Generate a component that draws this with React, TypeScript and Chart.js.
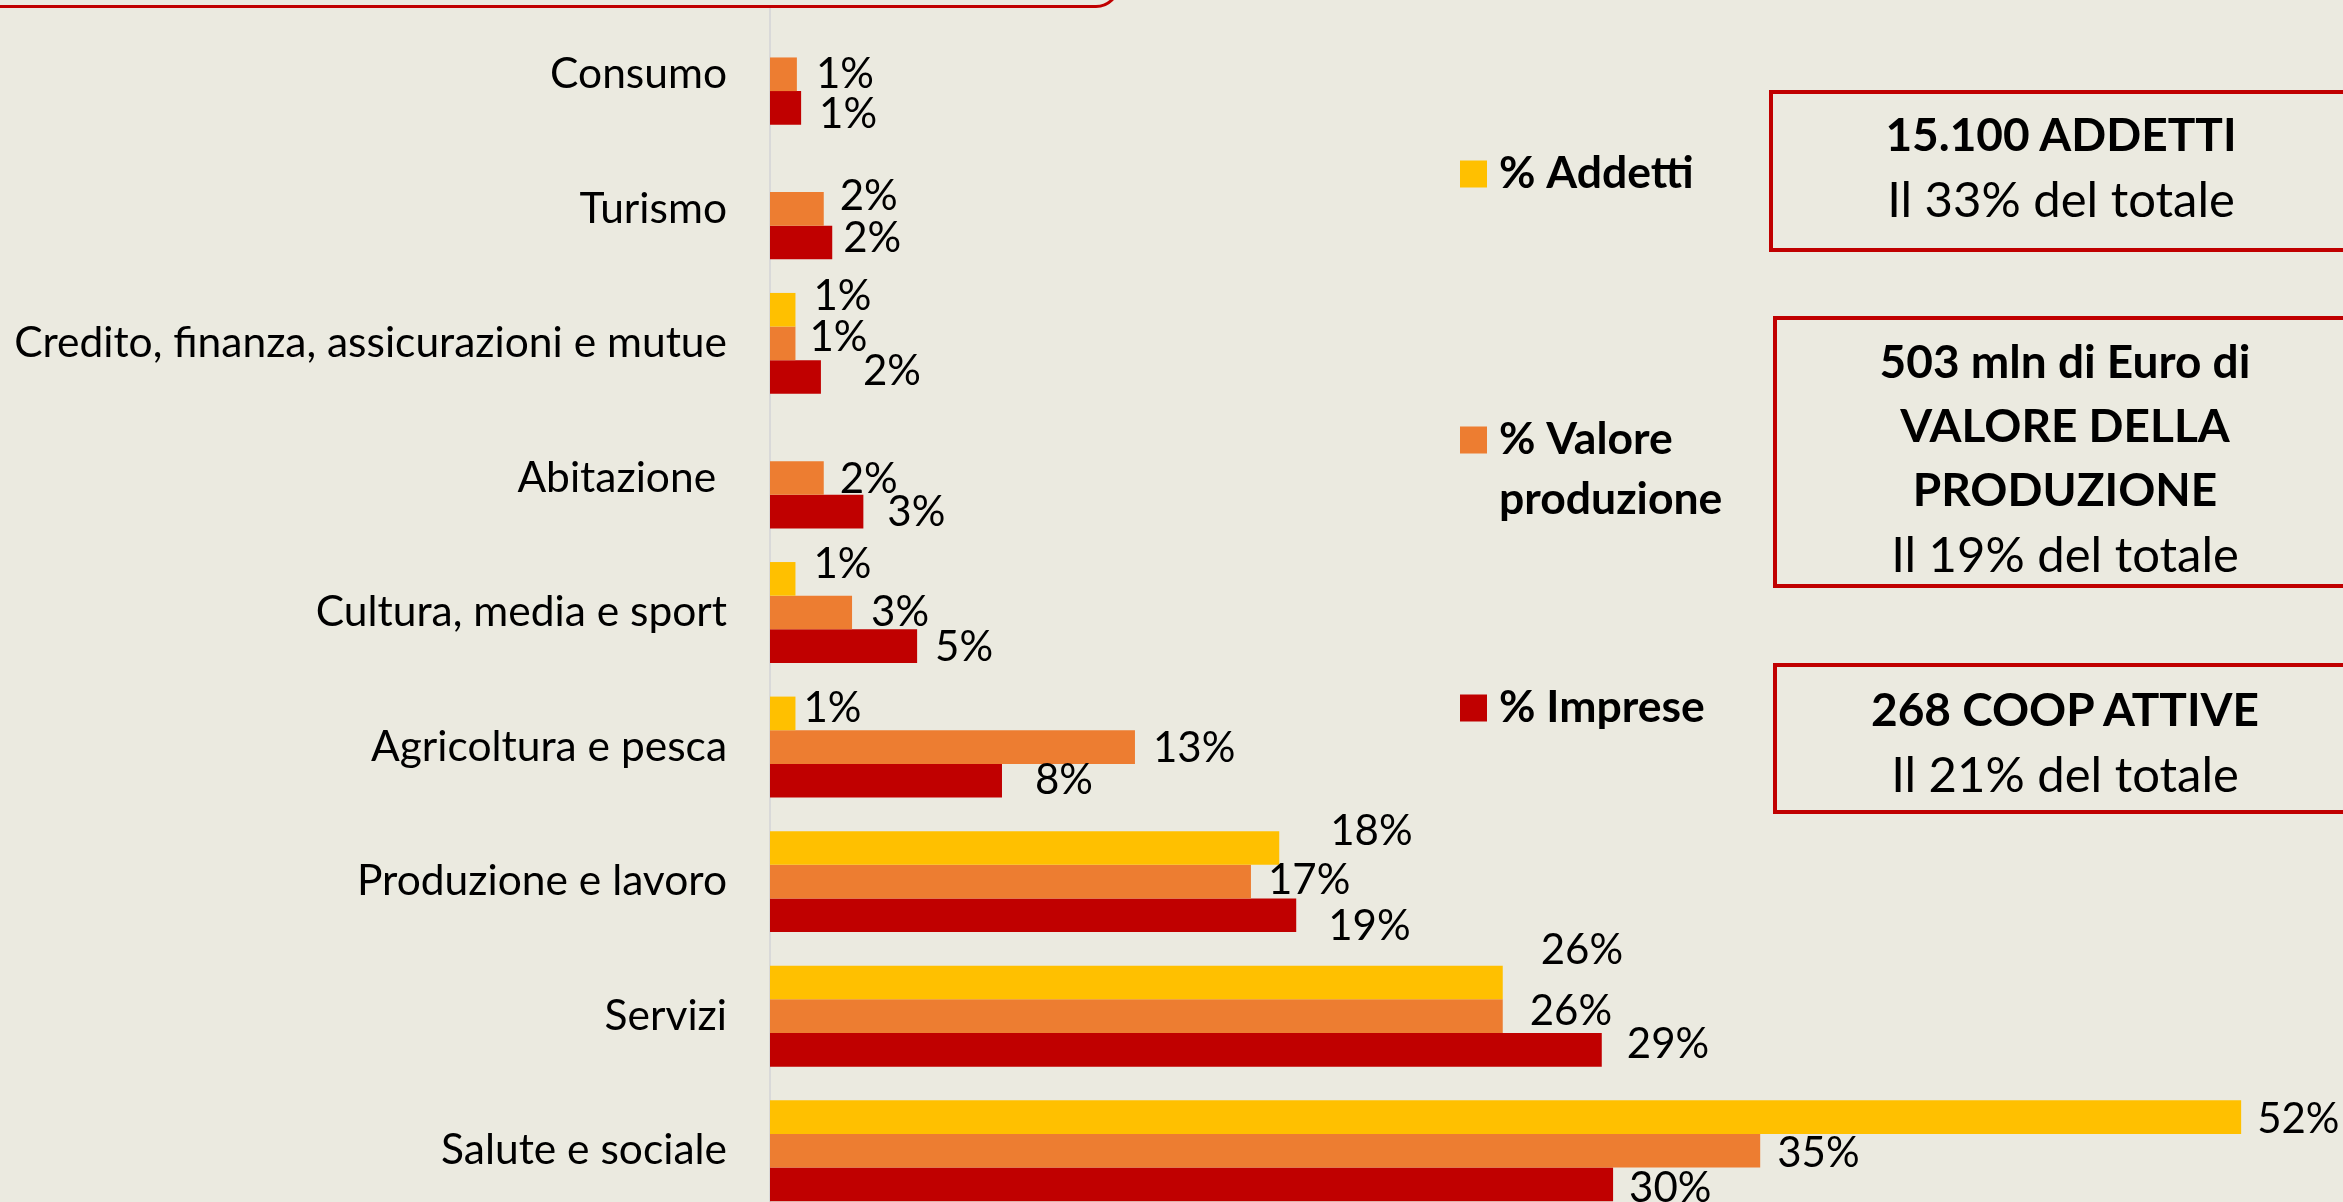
import React, { useEffect, useRef } from "react";
import { Chart, registerables } from "chart.js";

Chart.register(...registerables);

// ---------- DATA ----------
const categories = [
  "Consumo",
  "Turismo",
  "Credito, finanza, assicurazioni e mutue",
  "Abitazione ",
  "Cultura, media e sport",
  "Agricoltura e pesca",
  "Produzione e lavoro",
  "Servizi",
  "Salute e sociale",
];
const seriesNames = ["% Addetti", "% Valore produzione", "% Imprese"];
const addetti = [null, null, 0.9, null, 0.9, 0.9, 18.0, 25.9, 52.0];
const valoreProduzione = [0.95, 1.9, 0.9, 1.9, 2.9, 12.9, 17.0, 25.9, 35.0];
const imprese = [1.1, 2.2, 1.8, 3.3, 5.2, 8.2, 18.6, 29.4, 29.8];
const legendLines = [["% Addetti"], ["% Valore", "produzione"], ["% Imprese"]];
const boxBold = [["15.100 ADDETTI"], ["503 mln di Euro di", "VALORE DELLA", "PRODUZIONE"], ["268 COOP ATTIVE"]];
const boxNormal = ["Il 33% del totale", "Il 19% del totale", "Il 21% del totale"];

// ---------- STYLE / LAYOUT ----------
const COLORS = ["#FFC000", "#ED7D31", "#C00000"];
const BG = "#EBEAE0";
const RED = "#C00000";
const FONT = "Lato";
// label nudges (dx, dy) relative to the default outside-end position
const LABEL_NUDGE = [
  [[0, 0], [0, 0], [1, -13], [0, 0], [1, -14], [-9, -5], [34, -17], [21, -32], [-1, 2]],
  [[2, 0], [-1, -12], [-3, -6], [-1, 2], [2, 0], [1, 1], [0, -1], [10, -5], [0, 3]],
  [[1, 7], [-6, -4], [25, -6], [7, 1], [1, 1], [16, 0], [15, 11], [8, -5], [-1, 4]],
];
const LEGEND_Y = [174, 440, 708];
const BOX_LAYOUT = [
  { left: 1769, top: 90, height: 162, pad: 8 },
  { left: 1773, top: 316, height: 272, pad: 9 },
  { left: 1773, top: 663, height: 151, pad: 10 },
];

const labelPlugin = {
  id: "barLabels",
  afterDatasetsDraw(chart: any) {
    const ctx = chart.ctx;
    ctx.save();
    ctx.font = `42px ${FONT}`;
    ctx.fillStyle = "#000";
    ctx.textAlign = "left";
    ctx.textBaseline = "middle";
    chart.data.datasets.forEach((ds: any, di: number) => {
      const meta = chart.getDatasetMeta(di);
      meta.data.forEach((el: any, i: number) => {
        const v = ds.data[i];
        if (v == null) return;
        const [dx, dy] = LABEL_NUDGE[di][i];
        ctx.fillText(Math.round(v) + "%", el.x + 17 + dx, el.y + dy);
      });
    });
    ctx.restore();
  },
};

const legendPlugin = {
  id: "sideLegend",
  afterDraw(chart: any) {
    const ctx = chart.ctx;
    ctx.save();
    ctx.font = `bold 44.5px ${FONT}`;
    ctx.textAlign = "left";
    ctx.textBaseline = "middle";
    chart.data.datasets.forEach((ds: any, di: number) => {
      const y = LEGEND_Y[di];
      ctx.fillStyle = ds.backgroundColor;
      ctx.fillRect(1460, y - 13.5, 27, 27);
      ctx.fillStyle = "#000";
      legendLines[di].forEach((line, li) => {
        ctx.fillText(line, 1499, y + li * 60);
      });
    });
    ctx.restore();
  },
};

export default function App() {
  const ref = useRef<HTMLCanvasElement | null>(null);

  useEffect(() => {
    document.body.style.margin = "0";
    document.body.style.background = BG;
    const chart = new Chart(ref.current as HTMLCanvasElement, {
      type: "bar",
      data: {
        labels: categories,
        datasets: [addetti, valoreProduzione, imprese].map((d, i) => ({
          label: seriesNames[i],
          data: d,
          backgroundColor: COLORS[i],
          borderWidth: 0,
          barPercentage: 1,
          categoryPercentage: 0.75,
        })),
      },
      options: {
        responsive: false,
        animation: false,
        indexAxis: "y",
        layout: { padding: { top: 7, left: 0, right: 0, bottom: 0 } },
        plugins: { legend: { display: false }, tooltip: { enabled: false } },
        scales: {
          x: { display: false, min: 0, max: 55.6 },
          y: {
            afterFit: (s: any) => {
              s.width = 770;
              s.paddingTop = 0;
              s.paddingBottom = 0;
            },
            grid: { display: true, color: "rgba(0,0,0,0)", drawTicks: false },
            border: { display: true, color: "#D9D9D9", width: 2 },
            ticks: { font: { family: FONT, size: 42.5 }, color: "#000", padding: 43 },
          },
        },
      },
      plugins: [labelPlugin, legendPlugin],
    } as any);
    return () => chart.destroy();
  }, []);

  return (
    <div
      style={{
        position: "fixed",
        left: 0,
        top: 0,
        width: 2343,
        height: 1202,
        overflow: "hidden",
        background: BG,
        fontFamily: FONT,
        color: "#000",
      }}
    >
      <canvas ref={ref} width={2343} height={1218} style={{ position: "absolute", left: 0, top: 0 }} />
      <div
        style={{
          position: "absolute",
          left: -30,
          top: -200,
          width: 1150,
          height: 208,
          boxSizing: "border-box",
          border: `3px solid ${RED}`,
          borderRadius: 24,
        }}
      />
      {BOX_LAYOUT.map((b, i) => (
        <div
          key={i}
          style={{
            position: "absolute",
            left: b.left,
            top: b.top,
            width: 584,
            height: b.height,
            boxSizing: "border-box",
            border: `4px solid ${RED}`,
            paddingTop: b.pad,
            textAlign: "center",
            fontSize: 46,
            lineHeight: "64px",
          }}
        >
          {boxBold[i].map((t, k) => (
            <div key={k} style={{ fontWeight: 700 }}>
              {t}
            </div>
          ))}
          <div style={{ fontWeight: 400, fontSize: 49 }}>{boxNormal[i]}</div>
        </div>
      ))}
    </div>
  );
}
